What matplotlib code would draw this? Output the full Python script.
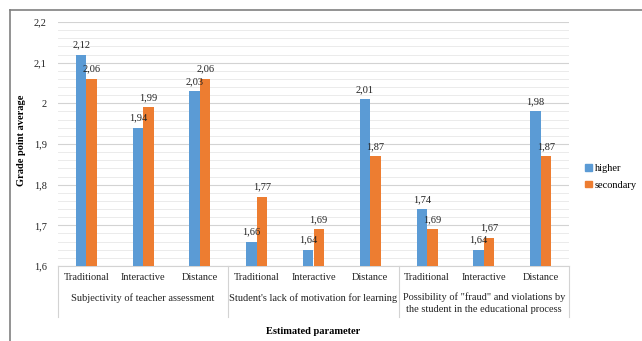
import matplotlib
matplotlib.use("Agg")
import matplotlib.pyplot as plt
from matplotlib.lines import Line2D
from matplotlib.patches import Patch
import numpy as np

plt.rcParams['font.family'] = ['Liberation Serif', 'DejaVu Serif']

methods = ["Traditional", "Interactive", "Distance"] * 3
groups = ["Subjectivity of teacher assessment",
          "Student's lack of motivation for learning",
          "Possibility of \"fraud\" and violations by\nthe student in the educational process"]
higher = [2.12, 1.94, 2.03, 1.66, 1.64, 2.01, 1.74, 1.64, 1.98]
secondary = [2.06, 1.99, 2.06, 1.77, 1.69, 1.87, 1.69, 1.67, 1.87]
series_names = ["higher", "secondary"]
yticks = [1.6, 1.7, 1.8, 1.9, 2.0, 2.1, 2.2]

blue = "#5B9BD5"
orange = "#ED7D31"

W, H = 642, 341
fig = plt.figure(figsize=(W / 100, H / 100), dpi=100)
ax = fig.add_axes([58 / W, 1 - 266 / H, (569 - 58) / W, (266 - 22) / H])

def fmt(v):
    s = ("%.2f" % v).rstrip("0").rstrip(".")
    return s.replace(".", ",")

x = np.arange(len(methods))
w = 0.185
b1 = ax.bar(x - w / 2, higher, w, color=blue, zorder=3)
b2 = ax.bar(x + w / 2, secondary, w, color=orange, zorder=3)
for bars, vals in ((b1, higher), (b2, secondary)):
    for r, v in zip(bars, vals):
        ax.annotate(fmt(v), (r.get_x() + r.get_width() / 2, v),
                    xytext=(0, 7), textcoords="offset points",
                    ha="center", va="center", fontsize=7.5, color="#222222")

ax.set_ylim(1.6, 2.2)
ax.set_xlim(-0.5, len(methods) - 0.5)
ax.set_yticks(yticks)
ax.set_yticklabels([fmt(v) for v in yticks])
ax.set_yticks(np.arange(1.6, 2.2001, 0.02), minor=True)
ax.grid(axis="y", which="major", color="#D3D3D3", linewidth=0.8, zorder=0)
ax.grid(axis="y", which="minor", color="#EBEBEB", linewidth=0.7, zorder=0)
ax.tick_params(axis="y", which="both", length=0, pad=8, labelsize=7.5, labelcolor="#222222")
ax.set_xticks(x)
ax.set_xticklabels(methods)
ax.tick_params(axis="x", length=0, pad=5, labelsize=7.5, labelcolor="#222222")
for s in ("top", "right", "left"):
    ax.spines[s].set_visible(False)
ax.spines["bottom"].set_color("#D3D3D3")

trans = ax.get_xaxis_transform()
span = 266 - 22
sep_bottom = -(317 - 266) / span
for b in (-0.5, 2.5, 5.5, 8.5):
    ax.plot([b, b], [0, sep_bottom], transform=trans, color="#D3D3D3",
            linewidth=0.8, clip_on=False)

# group captions below the method labels
for gi, g in enumerate(groups):
    if "\n" in g:
        ax.text(gi * 3 + 1, -(292 - 266) / span, g, transform=trans,
                ha="center", va="top", fontsize=7.5, color="#222222",
                linespacing=1.4)
    else:
        ax.text(gi * 3 + 1, -(298 - 266) / span, g, transform=trans,
                ha="center", va="center", fontsize=7.5, color="#222222")

fig.text(313 / W, 1 - 332 / H, "Estimated parameter", ha="center", va="center",
         fontsize=7.5, fontweight="bold")
fig.text(22 / W, 1 - 140 / H, "Grade point average", ha="center", va="center",
         rotation=90, fontsize=7.5, fontweight="bold")

handles = [Patch(color=blue), Patch(color=orange)]
fig.legend(handles, series_names, loc="center left",
           bbox_to_anchor=(576 / W, 1 - 177 / H), frameon=False,
           fontsize=7.5, handlelength=0.6, handleheight=0.6,
           handletextpad=0.3, labelspacing=0.7)

# outer frame
fig.add_artist(Line2D([10 / W, 1.0], [1 - 10 / H, 1 - 10 / H],
                      transform=fig.transFigure, color="#808080", linewidth=1.2))
fig.add_artist(Line2D([10 / W, 10 / W], [0.0, 1 - 10 / H],
                      transform=fig.transFigure, color="#808080", linewidth=1.2))

fig.savefig("out.png", dpi=100, facecolor="white")
